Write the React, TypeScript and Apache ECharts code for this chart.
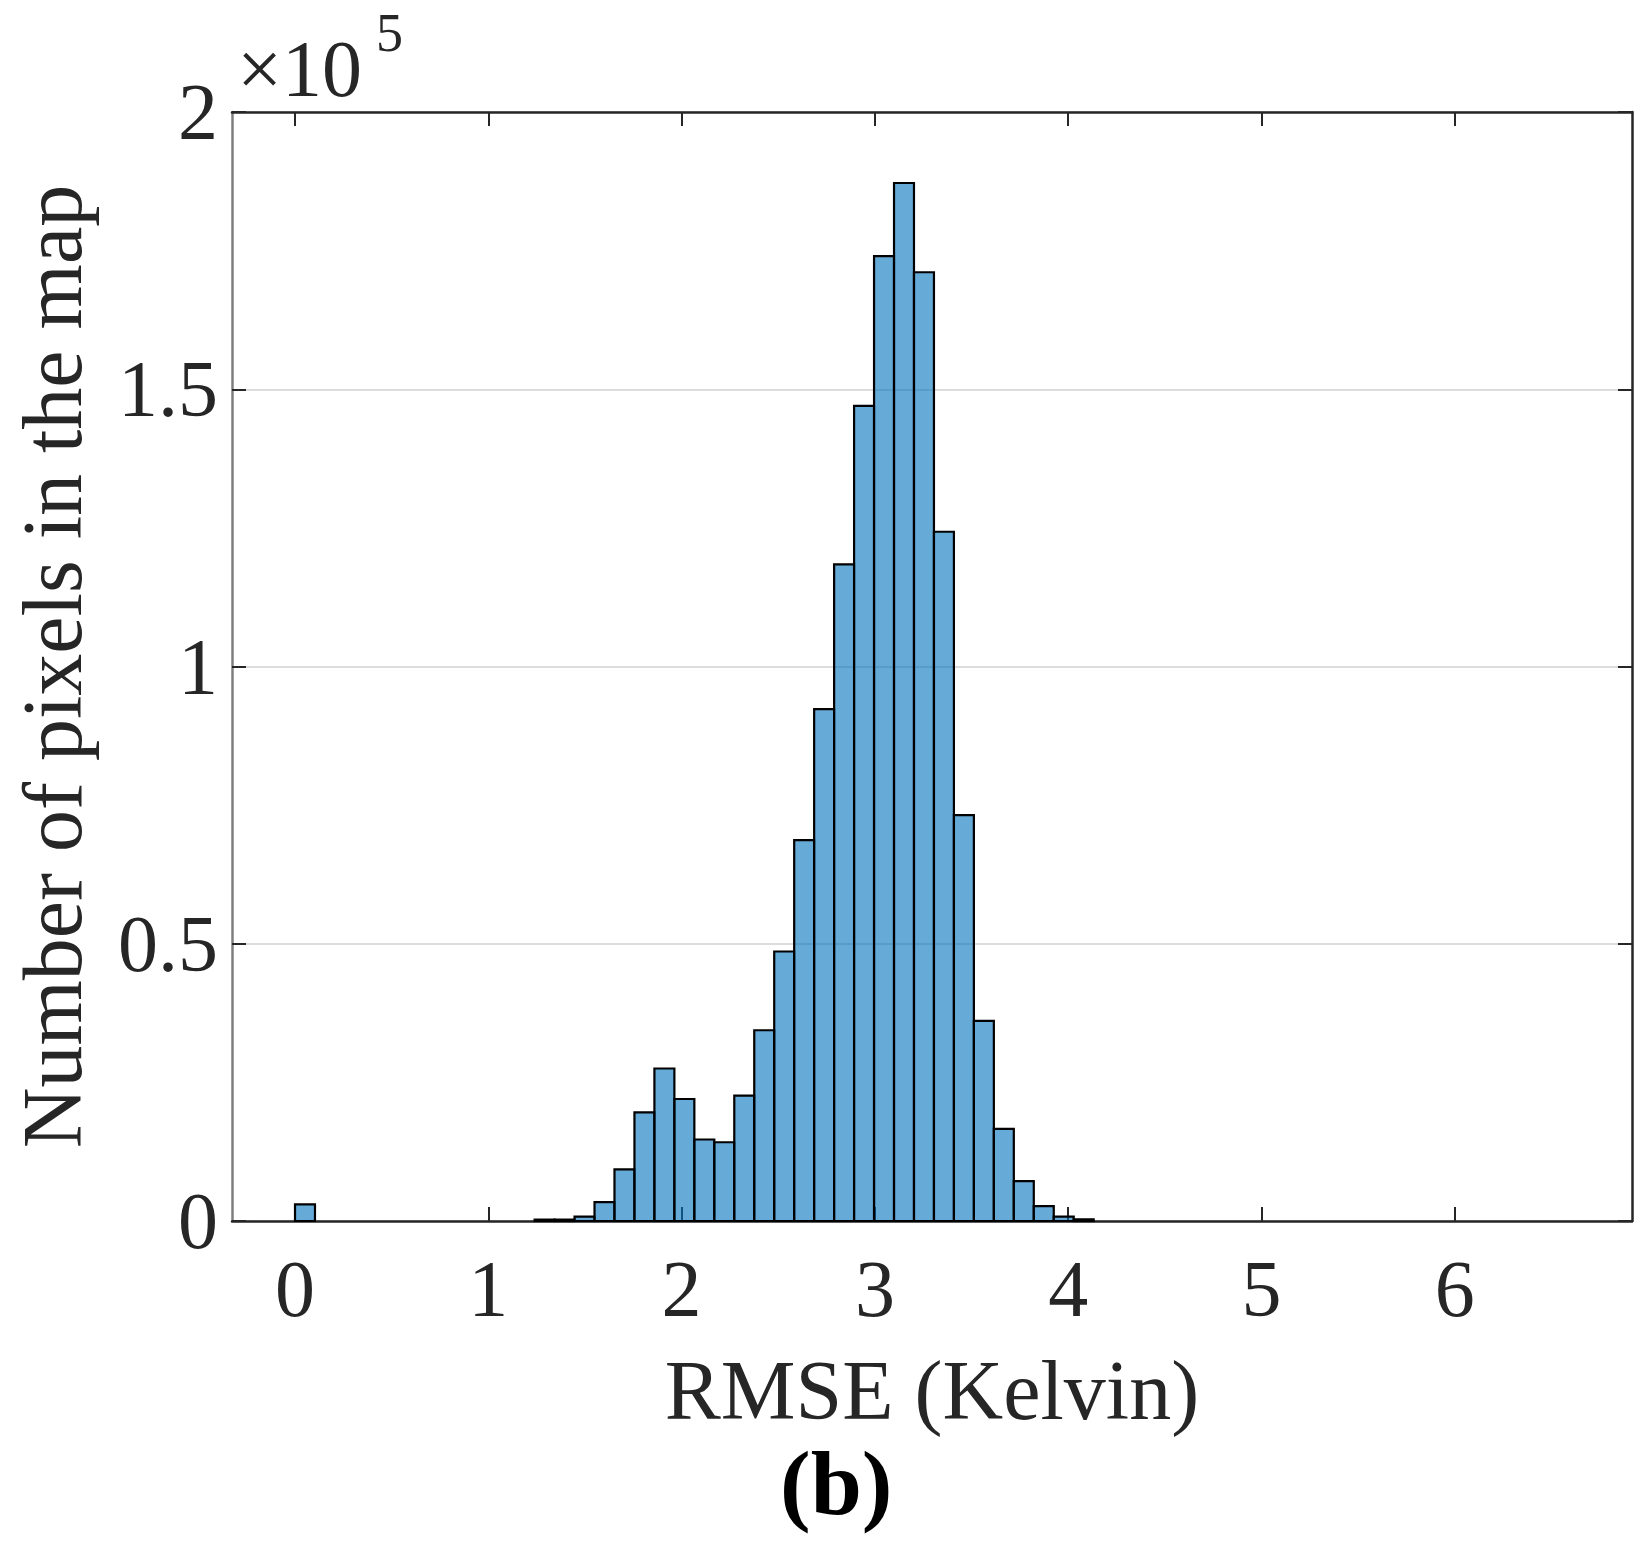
import React, { useEffect, useRef } from "react";
import * as echarts from "echarts";

// Histogram of RMSE (Kelvin): bin width and counts per bin (bin k covers [k*w, (k+1)*w])
const binWidth = 0.1033;
const binCounts = [
  3000, 0, 0, 0, 0, 0, 0, 0, 0, 0,
  0, 0, 250, 250, 800, 3400, 9300, 19600, 27500, 22000,
  14700, 14200, 22600, 34400, 48600, 68700, 92300, 118400, 147000, 174000,
  187200, 171100, 124300, 73200, 36100, 16600, 7200, 2700, 800, 300,
];
const xTickValues = [0, 1, 2, 3, 4, 5, 6];
const yTickValues = [0, 50000, 100000, 150000, 200000];
const xMin = -0.326;
const xMax = 6.917;
const yMin = 0;
const yMax = 200000;
const xTitle = "RMSE (Kelvin)";
const yTitle = "Number of pixels in the map";
const exponentBase = "×10";
const exponentPower = "5";
const panelLabel = "(b)";

const FONT = "'Liberation Serif', 'Times New Roman', serif";
const DARK = "#262626";

export default function App() {
  const ref = useRef<HTMLDivElement>(null);

  useEffect(() => {
    if (!ref.current) return;
    const chart = echarts.init(ref.current, null, { renderer: "svg" });

    const data = binCounts
      .map((c, k) => [k * binWidth, (k + 1) * binWidth, c])
      .filter((d) => d[2] > 0);

    const tickStyle = { color: DARK, width: 2 };

    chart.setOption({
      animation: false,
      backgroundColor: "#ffffff",
      grid: { left: 232, right: 17, top: 112, bottom: 329, containLabel: false },
      xAxis: [
        {
          type: "value",
          position: "bottom",
          min: xMin,
          max: xMax,
          axisLine: { show: true, onZero: false, lineStyle: { color: DARK, width: 2.5 } },
          axisTick: { show: true, inside: true, length: 14, customValues: xTickValues, lineStyle: tickStyle },
          axisLabel: {
            customValues: xTickValues,
            fontSize: 80,
            fontFamily: FONT,
            color: DARK,
            margin: 28,
          },
          splitLine: { show: false },
          name: xTitle,
          nameLocation: "middle",
          nameGap: 127,
          nameTextStyle: { fontSize: 84, fontFamily: FONT, color: DARK },
        },
        {
          type: "value",
          position: "top",
          min: xMin,
          max: xMax,
          axisLine: { show: true, onZero: false, lineStyle: { color: DARK, width: 2.5 } },
          axisTick: { show: true, inside: true, length: 14, customValues: xTickValues, lineStyle: tickStyle },
          axisLabel: { show: false },
          splitLine: { show: false },
        },
      ],
      yAxis: [
        {
          type: "value",
          position: "left",
          min: yMin,
          max: yMax,
          interval: 50000,
          axisLine: { show: true, onZero: false, lineStyle: { color: "#7f7f7f", width: 2.5 } },
          axisTick: { show: true, inside: true, length: 14, customValues: yTickValues, lineStyle: tickStyle },
          axisLabel: {
            fontSize: 80,
            fontFamily: FONT,
            color: DARK,
            margin: 14,
            formatter: (v: number) => String(v / 100000),
          },
          splitLine: { show: true, lineStyle: { color: "#dcdcdc", width: 2 } },
          name: yTitle,
          nameLocation: "middle",
          nameGap: 138,
          nameTextStyle: { fontSize: 84, fontFamily: FONT, color: DARK },
        },
        {
          type: "value",
          position: "right",
          min: yMin,
          max: yMax,
          interval: 50000,
          axisLine: { show: true, onZero: false, lineStyle: { color: DARK, width: 2.5 } },
          axisTick: { show: true, inside: true, length: 14, customValues: yTickValues, lineStyle: tickStyle },
          axisLabel: { show: false },
          splitLine: { show: false },
        },
      ],
      series: [
        {
          type: "custom",
          xAxisIndex: 0,
          yAxisIndex: 0,
          encode: { x: [0, 1], y: 2 },
          data,
          renderItem: (params: any, api: any) => {
            const x0 = api.value(0);
            const x1 = api.value(1);
            const y = api.value(2);
            const p0 = api.coord([x0, y]);
            const p1 = api.coord([x1, 0]);
            return {
              type: "rect",
              shape: { x: p0[0], y: p0[1], width: p1[0] - p0[0], height: p1[1] - p0[1] },
              style: { fill: "rgba(0,114,189,0.6)", stroke: "#000000", lineWidth: 2.2 },
            };
          },
        },
      ],
      graphic: [
        {
          type: "text",
          left: 237,
          top: 29,
          style: { text: exponentBase, fontSize: 80, fontFamily: FONT, fill: DARK },
        },
        {
          type: "text",
          left: 376,
          top: 6,
          style: { text: exponentPower, fontSize: 54, fontFamily: FONT, fill: DARK },
        },
        {
          type: "text",
          left: 780,
          top: 1437,
          style: { text: panelLabel, fontSize: 92, fontWeight: "bold", fontFamily: FONT, fill: "#000000" },
        },
      ],
    });

    return () => chart.dispose();
  }, []);

  return (
    <div
      ref={ref}
      style={{ position: "absolute", left: 0, top: 0, width: 1649, height: 1550, background: "#fff" }}
    />
  );
}
